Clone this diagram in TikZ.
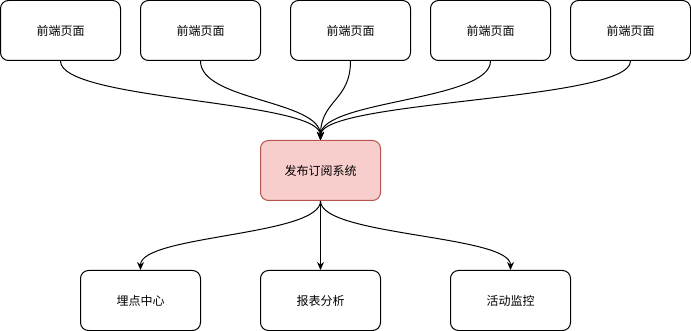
\documentclass[tikz,border=0pt]{standalone}
\definecolor{pubfill}{RGB}{248, 206, 204}
\definecolor{publine}{RGB}{184, 84, 80}
\usepackage{fontspec}
\newfontfamily\cjk{Noto Sans CJK SC}
\usepackage{tikz}
\usetikzlibrary{arrows.meta, positioning, calc}

\begin{document}
\begin{tikzpicture}[x=1pt, y=-1pt,
                    box/.style={draw, line width=1pt, rounded corners=8pt, minimum width=120pt, minimum height=60pt, font=\cjk\fontsize{12}{14}\selectfont},
                    conn/.style={-{Stealth[length=8pt, width=7pt]}, line width=1pt}]
                    \useasboundingbox (0, 0) rectangle (691, 331);
                    \node[box] (page1) at (60.5, 30.5) {前端页面};
                    \node[box] (page2) at (200.5, 30.5) {前端页面};
                    \node[box] (page3) at (350.5, 30.5) {前端页面};
                    \node[box] (page4) at (490.5, 30.5) {前端页面};
                    \node[box] (page5) at (630.5, 30.5) {前端页面};
                    \node[box, fill=pubfill, draw=publine] (pubsub) at (320.5, 170.5) {发布订阅系统};
                    \node[box] (track) at (140.5, 300.5) {埋点中心};
                    \node[box] (report) at (320.5, 300.5) {报表分析};
                    \node[box] (monitor) at (510.5, 300.5) {活动监控};
                    \foreach \p in {page1, page2, page3, page4, page5}
                        \draw[conn] (\p.south) .. controls ($(\p.south)+(0, 40)$) and ($(pubsub.north)+(0, -40)$) .. (pubsub.north);
                    \draw[conn] (pubsub.south) .. controls ($(pubsub.south)+(0, 35)$) and ($(track.north)+(0, -35)$) .. (track.north);
                    \draw[conn] (pubsub.south) -- (report.north);
                    \draw[conn] (pubsub.south) .. controls ($(pubsub.south)+(0, 35)$) and ($(monitor.north)+(0, -35)$) .. (monitor.north);
                \end{tikzpicture}
\end{document}
